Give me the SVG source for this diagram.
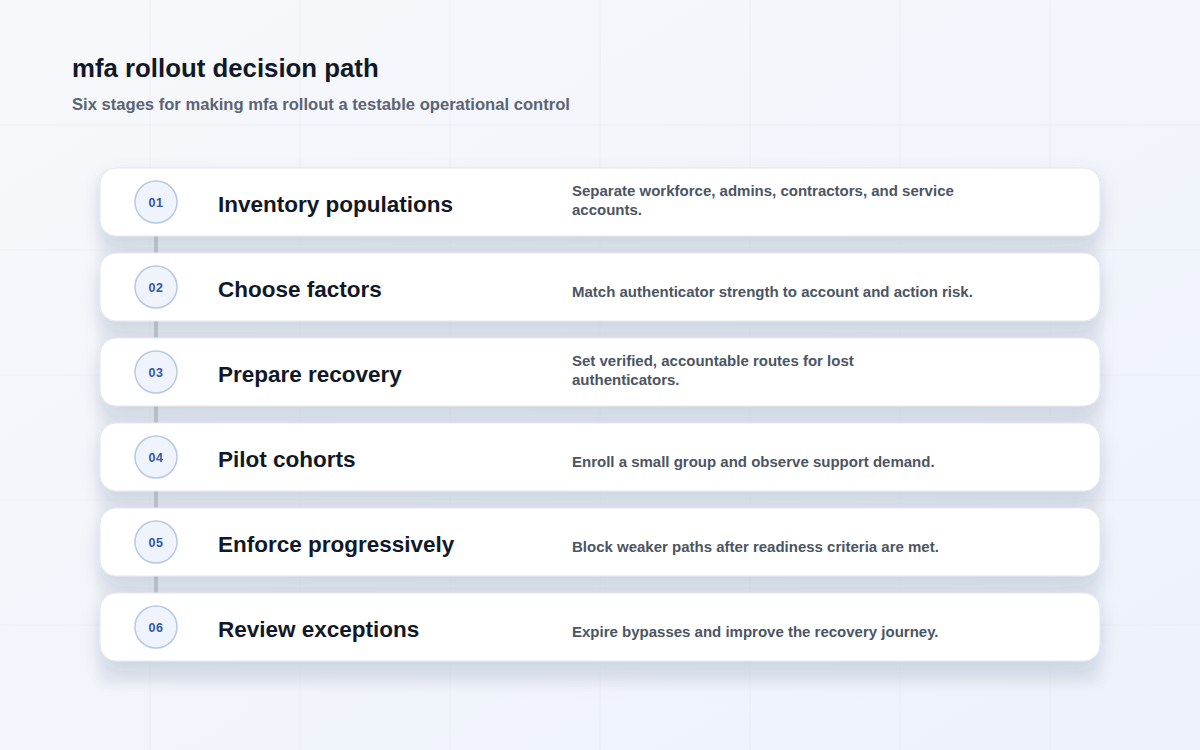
<svg xmlns="http://www.w3.org/2000/svg" width="1200" height="750" viewBox="0 0 1200 750">
<defs>
<linearGradient id="bg" x1="0" y1="0" x2="1" y2="1">
<stop offset="0" stop-color="#f7f8fb"/>
<stop offset="1" stop-color="#edf2fb"/>
</linearGradient>
<filter id="sh" x="-10%" y="-40%" width="120%" height="200%">
<feDropShadow dx="0" dy="10" stdDeviation="10" flood-color="#1e2a4a" flood-opacity="0.11"/>
</filter>
<filter id="blur" x="-5%" y="-5%" width="110%" height="110%">
<feGaussianBlur stdDeviation="6"/>
</filter>
<style>
.grid{stroke:#e6eaf1;stroke-width:1}
.card{fill:#ffffff;stroke:#e3e7ee;stroke-width:1}
.badge{fill:#eef3fc;stroke:#b8c8e6;stroke-width:1.5}
.num{font-family:"Liberation Sans",Arial,sans-serif;font-size:12.5px;font-weight:bold;fill:#3456a6;text-anchor:middle;letter-spacing:0.5px}
.ttl{font-family:"Liberation Sans",Arial,sans-serif;font-size:22.5px;font-weight:bold;fill:#111827}
.desc{font-family:"Liberation Sans",Arial,sans-serif;font-size:15px;font-weight:bold;fill:#4b5563}
.link{stroke:#c3c7cf;stroke-width:4}
</style>
</defs>
<rect width="1200" height="750" fill="url(#bg)"/>
<g opacity="0.7">
<line class="grid" x1="150" y1="0" x2="150" y2="750"/>
<line class="grid" x1="300" y1="0" x2="300" y2="750"/>
<line class="grid" x1="450" y1="0" x2="450" y2="750"/>
<line class="grid" x1="600" y1="0" x2="600" y2="750"/>
<line class="grid" x1="750" y1="0" x2="750" y2="750"/>
<line class="grid" x1="900" y1="0" x2="900" y2="750"/>
<line class="grid" x1="1050" y1="0" x2="1050" y2="750"/>
<line class="grid" x1="0" y1="125" x2="1200" y2="125"/>
<line class="grid" x1="0" y1="250" x2="1200" y2="250"/>
<line class="grid" x1="0" y1="375" x2="1200" y2="375"/>
<line class="grid" x1="0" y1="500" x2="1200" y2="500"/>
<line class="grid" x1="0" y1="625" x2="1200" y2="625"/>
</g>
<text x="72" y="77" font-family="Liberation Sans, Arial, sans-serif" font-size="25.8" font-weight="bold" fill="#111827">mfa rollout decision path</text>
<text x="72" y="110" font-family="Liberation Sans, Arial, sans-serif" font-size="16.6" font-weight="bold" fill="#5b6475">Six stages for making mfa rollout a testable operational control</text>
<rect x="100" y="175" width="1000" height="510" fill="#d9dfea" opacity="0.55" filter="url(#blur)"/>
<g id="connectors">
<line class="link" x1="156" y1="236" x2="156" y2="253"/>
<line class="link" x1="156" y1="321" x2="156" y2="338"/>
<line class="link" x1="156" y1="406" x2="156" y2="423"/>
<line class="link" x1="156" y1="491" x2="156" y2="508"/>
<line class="link" x1="156" y1="576" x2="156" y2="593"/>
</g>
<g id="stage1">
<rect class="card" x="100" y="168" width="1000" height="68" rx="16" filter="url(#sh)"/>
<circle class="badge" cx="156" cy="202" r="21"/>
<text class="num" x="156" y="206.5">01</text>
<text class="ttl" x="218" y="212">Inventory populations</text>
<text class="desc" x="572" y="196">Separate workforce, admins, contractors, and service</text>
<text class="desc" x="572" y="215">accounts.</text>
</g>
<g id="stage2">
<rect class="card" x="100" y="253" width="1000" height="68" rx="16" filter="url(#sh)"/>
<circle class="badge" cx="156" cy="287" r="21"/>
<text class="num" x="156" y="291.5">02</text>
<text class="ttl" x="218" y="297">Choose factors</text>
<text class="desc" x="572" y="297">Match authenticator strength to account and action risk.</text>
</g>
<g id="stage3">
<rect class="card" x="100" y="338" width="1000" height="68" rx="16" filter="url(#sh)"/>
<circle class="badge" cx="156" cy="372" r="21"/>
<text class="num" x="156" y="376.5">03</text>
<text class="ttl" x="218" y="382">Prepare recovery</text>
<text class="desc" x="572" y="366">Set verified, accountable routes for lost</text>
<text class="desc" x="572" y="385">authenticators.</text>
</g>
<g id="stage4">
<rect class="card" x="100" y="423" width="1000" height="68" rx="16" filter="url(#sh)"/>
<circle class="badge" cx="156" cy="457" r="21"/>
<text class="num" x="156" y="461.5">04</text>
<text class="ttl" x="218" y="467">Pilot cohorts</text>
<text class="desc" x="572" y="467">Enroll a small group and observe support demand.</text>
</g>
<g id="stage5">
<rect class="card" x="100" y="508" width="1000" height="68" rx="16" filter="url(#sh)"/>
<circle class="badge" cx="156" cy="542" r="21"/>
<text class="num" x="156" y="546.5">05</text>
<text class="ttl" x="218" y="552">Enforce progressively</text>
<text class="desc" x="572" y="552">Block weaker paths after readiness criteria are met.</text>
</g>
<g id="stage6">
<rect class="card" x="100" y="593" width="1000" height="68" rx="16" filter="url(#sh)"/>
<circle class="badge" cx="156" cy="627" r="21"/>
<text class="num" x="156" y="631.5">06</text>
<text class="ttl" x="218" y="637">Review exceptions</text>
<text class="desc" x="572" y="637">Expire bypasses and improve the recovery journey.</text>
</g>
</svg>
